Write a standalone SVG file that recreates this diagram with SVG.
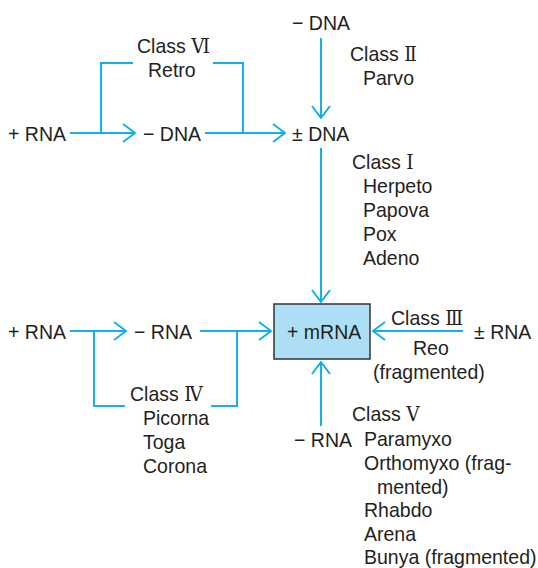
<svg xmlns="http://www.w3.org/2000/svg" width="538" height="568" viewBox="0 0 538 568">
<defs>
<style>
text{font-family:"Liberation Sans","Noto Sans CJK JP",sans-serif;font-size:21px;fill:#231f20}
.r{font-family:"DejaVu Serif","Liberation Serif",serif;font-size:20px}
.c{fill:none;stroke:#14b1e9;stroke-width:2}
.box{fill:#acdff5;stroke:#333;stroke-width:1.5}
</style>
<marker id="ah" viewBox="0 0 14 20" refX="13" refY="10" markerWidth="14" markerHeight="20" markerUnits="userSpaceOnUse" orient="auto">
<path d="M1,1 L13,10 L1,19" fill="none" stroke="#14b1e9" stroke-width="2"/>
</marker>
</defs>
<rect width="538" height="568" fill="#fff"/>
<g id="connectors">
<line class="c" x1="70" y1="133" x2="135" y2="133" marker-end="url(#ah)"/>
<polyline class="c" points="101,133 101,63 133,63"/>
<polyline class="c" points="213,63 243,63 243,133"/>
<line class="c" x1="205" y1="133" x2="285" y2="133" marker-end="url(#ah)"/>
<line class="c" x1="321" y1="38" x2="321" y2="118" marker-end="url(#ah)"/>
<line class="c" x1="321" y1="148" x2="321" y2="302" marker-end="url(#ah)"/>
<line class="c" x1="321" y1="426" x2="321" y2="362" marker-end="url(#ah)"/>
<line class="c" x1="70" y1="331" x2="126" y2="331" marker-end="url(#ah)"/>
<polyline class="c" points="94,331 94,406 125,406"/>
<polyline class="c" points="211,406 237,406 237,331"/>
<line class="c" x1="200" y1="331" x2="271" y2="331" marker-end="url(#ah)"/>
<line class="c" x1="463" y1="331" x2="373" y2="331" marker-end="url(#ah)"/>
</g>
<g id="n-dna-top"><text transform="translate(292,30) scale(0.93,1)">− DNA</text></g>
<g id="lbl-class6"><text transform="translate(137,53) scale(0.93,1)">Class <tspan class="r">Ⅵ</tspan></text><text transform="translate(148,77) scale(0.93,1)">Retro</text></g>
<g id="lbl-class2"><text transform="translate(350,61) scale(0.93,1)">Class <tspan class="r">Ⅱ</tspan></text><text transform="translate(363,85) scale(0.93,1)">Parvo</text></g>
<g id="n-rna-plus-top"><text transform="translate(8,141) scale(0.93,1)">+ RNA</text></g>
<g id="n-dna-minus"><text transform="translate(143,141) scale(0.93,1)">− DNA</text></g>
<g id="n-dna-pm"><text transform="translate(292,141) scale(0.93,1)">± DNA</text></g>
<g id="lbl-class1">
<text transform="translate(352,169) scale(0.93,1)">Class <tspan class="r">Ⅰ</tspan></text>
<text transform="translate(363,193) scale(0.93,1)">Herpeto</text>
<text transform="translate(363,217) scale(0.93,1)">Papova</text>
<text transform="translate(363,241) scale(0.93,1)">Pox</text>
<text transform="translate(363,265) scale(0.93,1)">Adeno</text>
</g>
<g id="n-mrna"><rect class="box" x="274" y="304" width="96" height="55"/><text transform="translate(287,339) scale(0.93,1)">+ mRNA</text></g>
<g id="n-rna-plus-2"><text transform="translate(8,339) scale(0.93,1)">+ RNA</text></g>
<g id="n-rna-minus-2"><text transform="translate(134,339) scale(0.93,1)">− RNA</text></g>
<g id="lbl-class3"><text transform="translate(391,325) scale(0.93,1)">Class <tspan class="r">Ⅲ</tspan></text><text transform="translate(413,355) scale(0.93,1)">Reo</text><text transform="translate(373,379) scale(0.93,1)">(fragmented)</text></g>
<g id="n-rna-pm"><text transform="translate(474,339) scale(0.93,1)">± RNA</text></g>
<g id="lbl-class4">
<text transform="translate(130,401) scale(0.93,1)">Class <tspan class="r">Ⅳ</tspan></text>
<text transform="translate(143,425) scale(0.93,1)">Picorna</text>
<text transform="translate(143,449) scale(0.93,1)">Toga</text>
<text transform="translate(143,473) scale(0.93,1)">Corona</text>
</g>
<g id="n-rna-minus-bottom"><text transform="translate(294,447) scale(0.93,1)">− RNA</text></g>
<g id="lbl-class5">
<text transform="translate(352,421) scale(0.93,1)">Class <tspan class="r">Ⅴ</tspan></text>
<text transform="translate(364,446) scale(0.93,1)">Paramyxo</text>
<text transform="translate(364,470) scale(0.93,1)">Orthomyxo (frag-</text>
<text transform="translate(377,494) scale(0.93,1)">mented)</text>
<text transform="translate(364,517) scale(0.93,1)">Rhabdo</text>
<text transform="translate(364,541) scale(0.93,1)">Arena</text>
<text transform="translate(364,564) scale(0.93,1)">Bunya (fragmented)</text>
</g>
</svg>
